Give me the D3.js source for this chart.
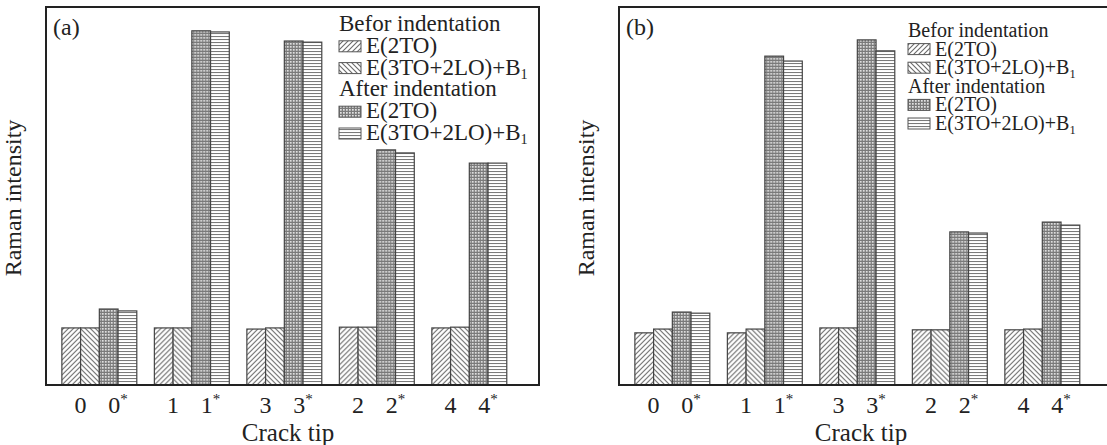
<!DOCTYPE html>
<html>
<head>
<meta charset="utf-8">
<script src="https://cdn.jsdelivr.net/npm/d3@7"></script>
<style>
  body { margin: 0; background: #fff; }
  svg text { font-family: "Liberation Serif", "Times New Roman", serif; fill: #222; }
</style>
</head>
<body>
<svg id="chart" width="1107" height="445"></svg>
<script>
// crack tip groups, in the order shown on the x axis
const categories = ['0', '1', '3', '2', '4'];
const seriesKeys = ['before2TO', 'before3TO', 'after2TO', 'after3TO'];

// panel (a) intensities, arbitrary units (0-100 = full plot height)
const aBefore2TO = [15.1, 15.1, 14.8, 15.3, 15.1];
const aBefore3TO = [15.1, 15.1, 15.1, 15.3, 15.3];
const aAfter2TO = [20.1, 93.7, 91.0, 62.2, 58.7];
const aAfter3TO = [19.6, 93.4, 90.7, 61.4, 58.7];

// panel (b)
const bBefore2TO = [13.8, 13.8, 15.1, 14.6, 14.6];
const bBefore3TO = [14.8, 14.8, 15.1, 14.6, 14.8];
const bAfter2TO = [19.3, 87.0, 91.3, 40.5, 43.1];
const bAfter3TO = [19.0, 85.7, 88.4, 40.2, 42.3];

const legendHeaders = ['Befor indentation', 'After indentation'];

const svg = d3.select('#chart');
const defs = svg.append('defs');

// fill patterns
const pFwd = defs.append('pattern').attr('id', 'fwd')
  .attr('patternUnits', 'userSpaceOnUse').attr('width', 5).attr('height', 5);
pFwd.append('rect').attr('width', 5).attr('height', 5).attr('fill', '#fff');
pFwd.append('path').attr('d', 'M-1,1 l2,-2 M0,5 l5,-5 M4,6 l2,-2')
  .attr('stroke', '#6a6a6a').attr('stroke-width', 1.1);

const pBack = defs.append('pattern').attr('id', 'back')
  .attr('patternUnits', 'userSpaceOnUse').attr('width', 5).attr('height', 5);
pBack.append('rect').attr('width', 5).attr('height', 5).attr('fill', '#fff');
pBack.append('path').attr('d', 'M-1,4 l2,2 M0,0 l5,5 M4,-1 l2,2')
  .attr('stroke', '#6a6a6a').attr('stroke-width', 1.1);

const pCheck = defs.append('pattern').attr('id', 'check')
  .attr('patternUnits', 'userSpaceOnUse').attr('width', 3).attr('height', 3);
pCheck.append('rect').attr('width', 3).attr('height', 3).attr('fill', '#7a7a7a');
pCheck.append('rect').attr('x', 1).attr('y', 1).attr('width', 1.7).attr('height', 1.7).attr('fill', '#e2e2e2');

const pHoriz = defs.append('pattern').attr('id', 'horiz')
  .attr('patternUnits', 'userSpaceOnUse').attr('width', 4).attr('height', 3);
pHoriz.append('rect').attr('width', 4).attr('height', 3).attr('fill', '#fff');
pHoriz.append('line').attr('x1', 0).attr('x2', 4).attr('y1', 0.5).attr('y2', 0.5)
  .attr('stroke', '#7a7a7a').attr('stroke-width', 1.1);

const fills = {
  before2TO: 'url(#fwd)',
  before3TO: 'url(#back)',
  after2TO: 'url(#check)',
  after3TO: 'url(#horiz)'
};

function drawPanel(opt) {
  const top = 7;
  const bottom = 385;
  const data = categories.map((c, i) => {
    return {cat: c, values: seriesKeys.map((k) => ({key: k, value: opt.series[k][i]}))};
  });

  const xscale = d3.scaleBand()
    .domain(categories)
    .range([opt.left, opt.right])
    .paddingInner(0.19)
    .paddingOuter(0.26)
    .align(0.33);

  const inner = d3.scaleBand()
    .domain(seriesKeys)
    .range([0, xscale.bandwidth()]);

  const yscale = d3.scaleLinear()
    .domain([0, 100])
    .range([bottom, top]);

  const g = svg.append('g');

  // bars
  g.append('g')
    .selectAll('g')
    .data(data)
    .enter()
    .append('g')
    .attr('transform', (d) => `translate(${xscale(d.cat)}, 0)`)
    .selectAll('rect')
    .data((d) => d.values)
    .enter()
    .append('rect')
    .attr('x', (d) => inner(d.key))
    .attr('y', (d) => yscale(d.value))
    .attr('width', inner.bandwidth())
    .attr('height', (d) => bottom - yscale(d.value))
    .attr('fill', (d) => fills[d.key])
    .attr('stroke', '#444')
    .attr('stroke-width', 1.2);

  // frame
  const frame = g.append('path')
    .attr('fill', 'none')
    .attr('stroke', '#222')
    .attr('stroke-width', 2);
  if (opt.closed) {
    frame.attr('d', `M${opt.left},${bottom}V${top}H${opt.right}V${bottom}Z`);
  } else {
    frame.attr('d', `M${opt.right},${bottom}H${opt.left}V${top}H${opt.right}`);
  }

  // tick labels: plain under the "before" pair, starred under the "after" pair
  const ticks = g.append('g').selectAll('g')
    .data(categories)
    .enter()
    .append('g');
  ticks.append('text')
    .attr('x', (d) => xscale(d) + inner('before3TO'))
    .attr('y', 413)
    .attr('text-anchor', 'middle')
    .style('font-size', '24px')
    .text((d) => d);
  const star = ticks.append('text')
    .attr('x', (d) => xscale(d) + inner('after3TO'))
    .attr('y', 413)
    .attr('text-anchor', 'middle')
    .style('font-size', '24px');
  star.append('tspan').text((d) => d);
  star.append('tspan').attr('dy', -9).style('font-size', '15px').text('*');

  g.append('text')
    .attr('x', opt.titleX)
    .attr('y', 441)
    .attr('text-anchor', 'middle')
    .style('font-size', '25px')
    .text('Crack tip');

  g.append('text')
    .attr('transform', `translate(${opt.left - 25}, 198) rotate(-90)`)
    .attr('text-anchor', 'middle')
    .style('font-size', '24px')
    .text('Raman intensity');

  g.append('text')
    .attr('x', opt.left + 7)
    .attr('y', 35)
    .style('font-size', '24px')
    .text(opt.label);

  // legend
  const lg = g.append('g').attr('transform', `translate(${opt.legX}, 0)`);
  const fs = opt.legFont;
  const rows = [
    {head: legendHeaders[0]},
    {key: 'before2TO', text: 'E(2TO)'},
    {key: 'before3TO', text: 'E(3TO+2LO)+B', sub: '1'},
    {head: legendHeaders[1]},
    {key: 'after2TO', text: 'E(2TO)'},
    {key: 'after3TO', text: 'E(3TO+2LO)+B', sub: '1'}
  ];
  rows.forEach((r, i) => {
    const y = opt.legY + i * opt.legStep;
    if (r.head) {
      lg.append('text').attr('x', 0).attr('y', y)
        .style('font-size', fs + 'px').text(r.head);
      return;
    }
    lg.append('rect')
      .attr('x', 0).attr('y', y - 12)
      .attr('width', 22).attr('height', 11)
      .attr('fill', fills[r.key])
      .attr('stroke', '#555').attr('stroke-width', 1);
    const t = lg.append('text').attr('x', 27).attr('y', y)
      .style('font-size', fs + 'px');
    t.append('tspan').text(r.text);
    if (r.sub) {
      t.append('tspan').attr('dy', 4).style('font-size', (fs * 0.62) + 'px').text(r.sub);
    }
  });
}

drawPanel({
  left: 46, right: 539, closed: true, label: '(a)', titleX: 288,
  legX: 339, legY: 31, legStep: 21.8, legFont: 23,
  series: {before2TO: aBefore2TO, before3TO: aBefore3TO, after2TO: aAfter2TO, after3TO: aAfter3TO}
});

drawPanel({
  left: 619, right: 1112, closed: false, label: '(b)', titleX: 861,
  legX: 908, legY: 37, legStep: 18.6, legFont: 20,
  series: {before2TO: bBefore2TO, before3TO: bBefore3TO, after2TO: bAfter2TO, after3TO: bAfter3TO}
});
</script>
</body>
</html>
